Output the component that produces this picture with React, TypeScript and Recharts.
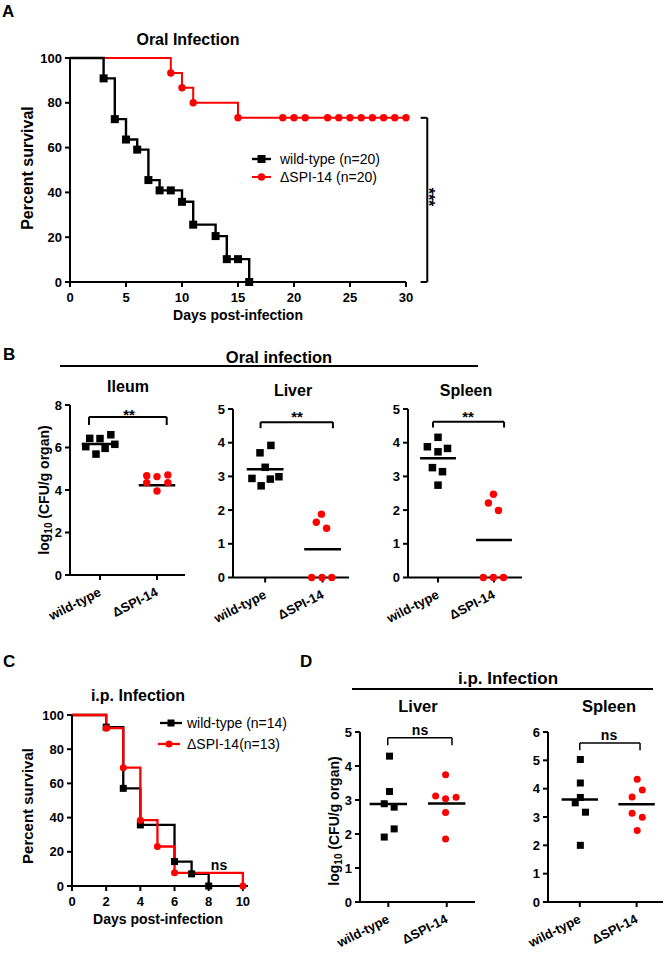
import React from 'react';
import { LineChart, Line, XAxis, YAxis, ScatterChart, Scatter, ReferenceLine } from 'recharts';

const FONT = "'Liberation Sans', Arial, Helvetica, sans-serif";
const RED = '#ff0000';
const BLACK = '#000000';

// ---------- Panel A: oral infection survival ----------
const oralDaysWT = [0, 3, 4, 5, 6, 7, 8, 9, 10, 11, 13, 14, 15, 16];
const oralSurvWT = [100, 90.9, 72.7, 63.6, 59.1, 45.5, 40.9, 40.9, 35.8, 25.6, 20.5, 10.2, 10.2, 0];
const oralDaysMut = [0, 9, 10, 11, 15, 19, 20, 21, 23, 24, 25, 26, 27, 28, 29, 30];
const oralSurvMut = [100, 93.3, 86.7, 80, 73.3, 73.3, 73.3, 73.3, 73.3, 73.3, 73.3, 73.3, 73.3, 73.3, 73.3, 73.3];
const oralDayTicks = [0, 5, 10, 15, 20, 25, 30];
const survTicks = [0, 20, 40, 60, 80, 100];
// bracket: [tick x, vertical x, top y, bottom y] (days / percent)
const oralBracket = [31.3, 31.9, 73.3, 0];

// ---------- Panel C: i.p. infection survival ----------
const ipDaysWT = [0, 2, 3, 4, 6, 7, 8];
const ipSurvWT = [100, 92.9, 57.1, 35.7, 14.3, 7.1, 0];
const ipDaysMut = [0, 2, 3, 4, 5, 6, 10];
const ipSurvMut = [100, 92.3, 69.2, 38.5, 23.1, 7.7, 0];
const ipDayTicks = [0, 2, 4, 6, 8, 10];

const groups = ['wild-type', '\u0394SPI-14'];

// ---------- Panel B: oral infection organ burden ----------
const ileumWT = [6.43, 6.42, 6.6, 6.04, 6.15, 5.96, 5.69];
const ileumWTJitter = [-0.18, 0, 0.19, -0.25, 0.26, 0.09, -0.07];
const ileumMut = [4.67, 4.63, 4.71, 4.34, 4.34, 3.95];
const ileumMutJitter = [-0.18, 0, 0.19, -0.18, 0.19, 0];
const ileumMeans = [6.16, 4.22];
const ileumBracket = [0.807, 2.17, 7.44, 7.06];
const ileumTicks = [0, 2, 4, 6, 8];

const liverOralWT = [3.92, 3.7, 3.27, 2.94, 2.92, 2.99, 2.72];
const liverOralWTJitter = [0.1, -0.09, 0, -0.23, 0.09, 0.24, -0.07];
const liverOralMut = [1.88, 1.64, 1.46, 0, 0, 0];
const liverOralMutJitter = [-0.02, -0.11, 0.07, -0.19, -0.01, 0.16];
const liverOralMeans = [3.21, 0.84];
const liverOralBracket = [0.92, 2.18, 4.61, 4.43];

const spleenOralWT = [4.16, 3.88, 3.83, 3.73, 3.26, 3.14, 2.74];
const spleenOralWTJitter = [0, -0.19, 0.17, 0, -0.1, 0.08, 0];
const spleenOralMut = [2.47, 2.21, 1.99, 0, 0, 0];
const spleenOralMutJitter = [-0.01, -0.1, 0.08, -0.19, -0.01, 0.17];
const spleenOralMeans = [3.54, 1.11];
const spleenOralBracket = [0.91, 2.18, 4.62, 4.45];
const organTicks5 = [0, 1, 2, 3, 4, 5];

// ---------- Panel D: i.p. infection organ burden ----------
const liverIpWT = [4.29, 3.25, 2.89, 2.79, 2.15, 1.91];
const liverIpWTJitter = [0.02, 0.02, -0.07, 0.1, 0.1, -0.07];
const liverIpMut = [3.74, 3.12, 3.04, 3.08, 2.63, 1.85];
const liverIpMutJitter = [-0.02, -0.19, -0.02, 0.16, -0.02, -0.02];
const liverIpMeans = [2.88, 2.9];
const liverIpBracket = [0.99, 2.09, 4.83, 4.61];

const spleenIpWT = [5.03, 4.2, 3.69, 3.5, 3.17, 2.0];
const spleenIpWTJitter = [0.01, 0.01, 0.01, -0.08, 0.1, 0.01];
const spleenIpMut = [4.33, 3.95, 3.71, 3.13, 2.99, 2.52];
const spleenIpMutJitter = [0.01, 0.1, -0.08, -0.08, 0.1, 0.01];
const spleenIpMeans = [3.62, 3.45];
const spleenIpBracket = [1.0, 2.06, 5.61, 5.36];
const organTicks6 = [0, 1, 2, 3, 4, 5, 6];

// ---------- helpers ----------
const km = (days: number[], surv: number[]) => days.map((d, i) => ({ day: d, pct: surv[i] }));
const pts = (vals: number[], jit: number[], g: number) => vals.map((v, i) => ({ x: g + jit[i], y: v }));

const AX = { stroke: BLACK, strokeWidth: 2 };
const TICK = { fill: BLACK, fontSize: 13, fontWeight: 'bold', fontFamily: FONT };

const squareDot = (size: number) => (props: any) => {
  const { cx, cy, index } = props;
  if (index === 0 || cx == null || cy == null) return <g key={`sq-${index}`} />;
  return <rect key={`sq-${index}`} x={cx - size / 2} y={cy - size / 2} width={size} height={size} fill={BLACK} />;
};
const circleDot = (r: number) => (props: any) => {
  const { cx, cy, index } = props;
  if (index === 0 || cx == null || cy == null) return <g key={`ci-${index}`} />;
  return <circle key={`ci-${index}`} cx={cx} cy={cy} r={r} fill={RED} />;
};
const squareShape = (size: number) => (props: any) => (
  <rect x={props.cx - size / 2} y={props.cy - size / 2} width={size} height={size} fill={BLACK} />
);
const circleShape = (r: number) => (props: any) => <circle cx={props.cx} cy={props.cy} r={r} fill={RED} />;

const CatTick = (props: any) => {
  const { x, y, payload } = props;
  const label = payload.value === 1 ? groups[0] : groups[1];
  const tx = x + 2;
  const ty = y + 13;
  return (
    <text x={tx} y={ty} textAnchor="end" transform={`rotate(-27 ${tx} ${ty})`} fontSize={13} fontWeight="bold" fill={BLACK} fontFamily={FONT}>
      {label}
    </text>
  );
};

type DotPanelProps = {
  left: number; top: number; width: number; height: number;
  margin: { top: number; right: number; bottom: number; left: number };
  xAxisH: number; xDomain: number[]; yDomain: number[]; yTicks: number[];
  wt: number[]; wtJit: number[]; mut: number[]; mutJit: number[];
  means: number[]; bracket: number[]; sq: number; r: number; bracketW: number;
};

function DotPanel(p: DotPanelProps) {
  const wtPts = pts(p.wt, p.wtJit, 1);
  const mutPts = pts(p.mut, p.mutJit, 2);
  const [bx1, bx2, byTop, byLeg] = p.bracket;
  const hw = 0.32;
  return (
    <div style={{ position: 'absolute', left: p.left, top: p.top }}>
      <ScatterChart width={p.width} height={p.height} margin={p.margin}>
        <XAxis type="number" dataKey="x" domain={p.xDomain} ticks={[1, 2]} interval={0} height={p.xAxisH}
          axisLine={AX} tickLine={AX} tickSize={5} tick={(t: any) => <CatTick {...t} />} />
        <YAxis type="number" dataKey="y" domain={p.yDomain} ticks={p.yTicks} interval={0} width={50}
          axisLine={AX} tickLine={AX} tickSize={5} tickMargin={3} tick={TICK} />
        <ReferenceLine segment={[{ x: bx1, y: byLeg }, { x: bx1, y: byTop }]} stroke={BLACK} strokeWidth={p.bracketW} ifOverflow="visible" />
        <ReferenceLine segment={[{ x: bx1, y: byTop }, { x: bx2, y: byTop }]} stroke={BLACK} strokeWidth={p.bracketW} ifOverflow="visible" />
        <ReferenceLine segment={[{ x: bx2, y: byTop }, { x: bx2, y: byLeg }]} stroke={BLACK} strokeWidth={p.bracketW} ifOverflow="visible" />
        <ReferenceLine segment={[{ x: 1 - hw, y: p.means[0] }, { x: 1 + hw, y: p.means[0] }]} stroke={BLACK} strokeWidth={2.5} ifOverflow="visible" />
        <ReferenceLine segment={[{ x: 2 - hw, y: p.means[1] }, { x: 2 + hw, y: p.means[1] }]} stroke={BLACK} strokeWidth={2.5} ifOverflow="visible" />
        <Scatter data={wtPts} shape={squareShape(p.sq)} isAnimationActive={false} />
        <Scatter data={mutPts} shape={circleShape(p.r)} isAnimationActive={false} />
      </ScatterChart>
    </div>
  );
}

const T = (props: any) => <text fontFamily={FONT} fill={BLACK} {...props} />;

export default function App() {
  const oralWT = km(oralDaysWT, oralSurvWT);
  const oralMut = km(oralDaysMut, oralSurvMut);
  const ipWT = km(ipDaysWT, ipSurvWT);
  const ipMut = km(ipDaysMut, ipSurvMut);
  const [bt, bv, byT, byB] = oralBracket;

  return (
    <div style={{ position: 'absolute', left: 0, top: 0, width: 668, height: 953, background: '#fff', overflow: 'hidden', fontFamily: FONT }}>
      {/* Panel A */}
      <div style={{ position: 'absolute', left: 0, top: 0 }}>
        <LineChart width={450} height={320} margin={{ top: 58, right: 44, bottom: 10, left: 20 }}>
          <XAxis type="number" dataKey="day" domain={[0, 30]} ticks={oralDayTicks} interval={0} height={28}
            axisLine={AX} tickLine={AX} tickSize={5} tickMargin={6} tick={TICK} />
          <YAxis type="number" domain={[0, 100]} ticks={survTicks} interval={0} width={50}
            axisLine={AX} tickLine={AX} tickSize={5} tickMargin={3} tick={TICK} />
          <ReferenceLine segment={[{ x: bt, y: byT }, { x: bv, y: byT }]} stroke={BLACK} strokeWidth={2} ifOverflow="visible" />
          <ReferenceLine segment={[{ x: bv, y: byT }, { x: bv, y: byB }]} stroke={BLACK} strokeWidth={2} ifOverflow="visible" />
          <ReferenceLine segment={[{ x: bt, y: byB }, { x: bv, y: byB }]} stroke={BLACK} strokeWidth={2} ifOverflow="visible" />
          <Line data={oralMut} dataKey="pct" type="stepAfter" stroke={RED} strokeWidth={2} dot={circleDot(3.7)} activeDot={false} isAnimationActive={false} />
          <Line data={oralWT} dataKey="pct" type="stepAfter" stroke={BLACK} strokeWidth={2.4} dot={squareDot(8)} activeDot={false} isAnimationActive={false} />
        </LineChart>
      </div>

      {/* Panel B */}
      <DotPanel left={0} top={380} width={200} height={260} margin={{ top: 25, right: 15, bottom: 0, left: 20 }}
        xAxisH={65} xDomain={[0.474, 2.491]} yDomain={[0, 8]} yTicks={ileumTicks}
        wt={ileumWT} wtJit={ileumWTJitter} mut={ileumMut} mutJit={ileumMutJitter}
        means={ileumMeans} bracket={ileumBracket} sq={7.5} r={3.7} bracketW={2} />
      <DotPanel left={163} top={380} width={200} height={260} margin={{ top: 29, right: 14, bottom: 0, left: 20 }}
        xAxisH={62.5} xDomain={[0.44, 2.46]} yDomain={[0, 5]} yTicks={organTicks5}
        wt={liverOralWT} wtJit={liverOralWTJitter} mut={liverOralMut} mutJit={liverOralMutJitter}
        means={liverOralMeans} bracket={liverOralBracket} sq={7.5} r={3.7} bracketW={2} />
      <DotPanel left={338} top={380} width={200} height={260} margin={{ top: 29, right: 16, bottom: 0, left: 20 }}
        xAxisH={62.5} xDomain={[0.464, 2.5]} yDomain={[0, 5]} yTicks={organTicks5}
        wt={spleenOralWT} wtJit={spleenOralWTJitter} mut={spleenOralMut} mutJit={spleenOralMutJitter}
        means={spleenOralMeans} bracket={spleenOralBracket} sq={7.5} r={3.7} bracketW={2} />

      {/* Panel C */}
      <div style={{ position: 'absolute', left: 0, top: 690 }}>
        <LineChart width={270} height={260} margin={{ top: 25, right: 22, bottom: 0, left: 20 }}>
          <XAxis type="number" dataKey="day" domain={[0, 10.3]} ticks={ipDayTicks} interval={0} height={64}
            axisLine={AX} tickLine={AX} tickSize={5} tickMargin={6} tick={TICK} />
          <YAxis type="number" domain={[0, 100]} ticks={survTicks} interval={0} width={52}
            axisLine={AX} tickLine={AX} tickSize={5} tickMargin={3} tick={TICK} />
          <Line data={ipWT} dataKey="pct" type="stepAfter" stroke={BLACK} strokeWidth={2.3} dot={squareDot(7)} activeDot={false} isAnimationActive={false} />
          <Line data={ipMut} dataKey="pct" type="stepAfter" stroke={RED} strokeWidth={2.3} dot={circleDot(3.5)} activeDot={false} isAnimationActive={false} />
        </LineChart>
      </div>

      {/* Panel D */}
      <DotPanel left={290} top={700} width={200} height={250} margin={{ top: 32, right: 15, bottom: 0, left: 20 }}
        xAxisH={48} xDomain={[0.515, 2.484]} yDomain={[0, 5]} yTicks={organTicks5}
        wt={liverIpWT} wtJit={liverIpWTJitter} mut={liverIpMut} mutJit={liverIpMutJitter}
        means={liverIpMeans} bracket={liverIpBracket} sq={7} r={3.5} bracketW={1.5} />
      <DotPanel left={478} top={700} width={190} height={250} margin={{ top: 32, right: 5, bottom: 0, left: 20 }}
        xAxisH={48} xDomain={[0.441, 2.464]} yDomain={[0, 6]} yTicks={organTicks6}
        wt={spleenIpWT} wtJit={spleenIpWTJitter} mut={spleenIpMut} mutJit={spleenIpMutJitter}
        means={spleenIpMeans} bracket={spleenIpBracket} sq={7} r={3.5} bracketW={1.5} />

      {/* Text & annotation overlay */}
      <svg width={668} height={953} style={{ position: 'absolute', left: 0, top: 0, pointerEvents: 'none' }}>
        {/* panel letters */}
        <T x={2} y={17} fontSize={17} fontWeight="bold">A</T>
        <T x={3} y={360} fontSize={17} fontWeight="bold">B</T>
        <T x={3} y={667} fontSize={17} fontWeight="bold">C</T>
        <T x={300} y={667} fontSize={17} fontWeight="bold">D</T>

        {/* Panel A texts */}
        <T x={188} y={45} fontSize={16} fontWeight="bold" textAnchor="middle">Oral Infection</T>
        <T transform="translate(33,168) rotate(-90)" fontSize={16} fontWeight="bold" textAnchor="middle">Percent survival</T>
        <T x={238} y={320} fontSize={14} fontWeight="bold" textAnchor="middle">Days post-infection</T>
        <T transform="translate(423,197) rotate(90)" fontSize={16} fontWeight="bold" textAnchor="middle">***</T>
        <line x1={252} x2={271} y1={159} y2={159} stroke={BLACK} strokeWidth={2.4} />
        <rect x={257.5} y={155} width={8} height={8} fill={BLACK} />
        <T x={280} y={164} fontSize={14}>wild-type (n=20)</T>
        <line x1={252} x2={271} y1={177} y2={177} stroke={RED} strokeWidth={2} />
        <circle cx={261.5} cy={177} r={3.7} fill={RED} />
        <T x={280} y={182} fontSize={14}>{'\u0394SPI-14 (n=20)'}</T>

        {/* Panel B texts */}
        <line x1={60} x2={478} y1={366} y2={366} stroke={BLACK} strokeWidth={2} />
        <T x={279} y={363} fontSize={16.5} fontWeight="bold" textAnchor="middle">Oral infection</T>
        <T x={128} y={392} fontSize={16} fontWeight="bold" textAnchor="middle">Ileum</T>
        <T x={293} y={396} fontSize={16} fontWeight="bold" textAnchor="middle">Liver</T>
        <T x={466} y={396} fontSize={16} fontWeight="bold" textAnchor="middle">Spleen</T>
        <T x={129} y={419.5} fontSize={15} fontWeight="bold" textAnchor="middle">**</T>
        <T x={297} y={421.5} fontSize={15} fontWeight="bold" textAnchor="middle">**</T>
        <T x={468} y={421.5} fontSize={15} fontWeight="bold" textAnchor="middle">**</T>
        <T transform="translate(48.5,490) rotate(-90)" fontSize={14} fontWeight="bold" textAnchor="middle">
          log<tspan fontSize={10} dy={3}>10</tspan><tspan dy={-3}> (CFU/g organ)</tspan>
        </T>

        {/* Panel C texts */}
        <T x={138} y={701} fontSize={16} fontWeight="bold" textAnchor="middle">i.p. Infection</T>
        <T transform="translate(33,806) rotate(-90)" fontSize={15} fontWeight="bold" textAnchor="middle">Percent survival</T>
        <T x={158} y={924} fontSize={14} fontWeight="bold" textAnchor="middle">Days post-infection</T>
        <T x={219} y={870} fontSize={14} fontWeight="bold" textAnchor="middle">ns</T>
        <line x1={160} x2={182} y1={723} y2={723} stroke={BLACK} strokeWidth={2.3} />
        <rect x={167.5} y={719.5} width={7} height={7} fill={BLACK} />
        <T x={187} y={728} fontSize={14}>wild-type (n=14)</T>
        <line x1={158} x2={180} y1={744} y2={744} stroke={RED} strokeWidth={2.3} />
        <circle cx={169} cy={744} r={3.5} fill={RED} />
        <T x={187} y={749} fontSize={14}>{'\u0394SPI-14(n=13)'}</T>

        {/* Panel D texts */}
        <line x1={352} x2={653} y1={689} y2={689} stroke={BLACK} strokeWidth={2} />
        <T x={508} y={684} fontSize={17} fontWeight="bold" textAnchor="middle">i.p. Infection</T>
        <T x={418} y={712} fontSize={16.5} fontWeight="bold" textAnchor="middle">Liver</T>
        <T x={609} y={712} fontSize={16.5} fontWeight="bold" textAnchor="middle">Spleen</T>
        <T x={420} y={735} fontSize={14} fontWeight="bold" textAnchor="middle">ns</T>
        <T x={609} y={740} fontSize={14} fontWeight="bold" textAnchor="middle">ns</T>
        <T transform="translate(339,821) rotate(-90)" fontSize={14} fontWeight="bold" textAnchor="middle">
          log<tspan fontSize={10} dy={3}>10</tspan><tspan dy={-3}> (CFU/g organ)</tspan>
        </T>
      </svg>
    </div>
  );
}
